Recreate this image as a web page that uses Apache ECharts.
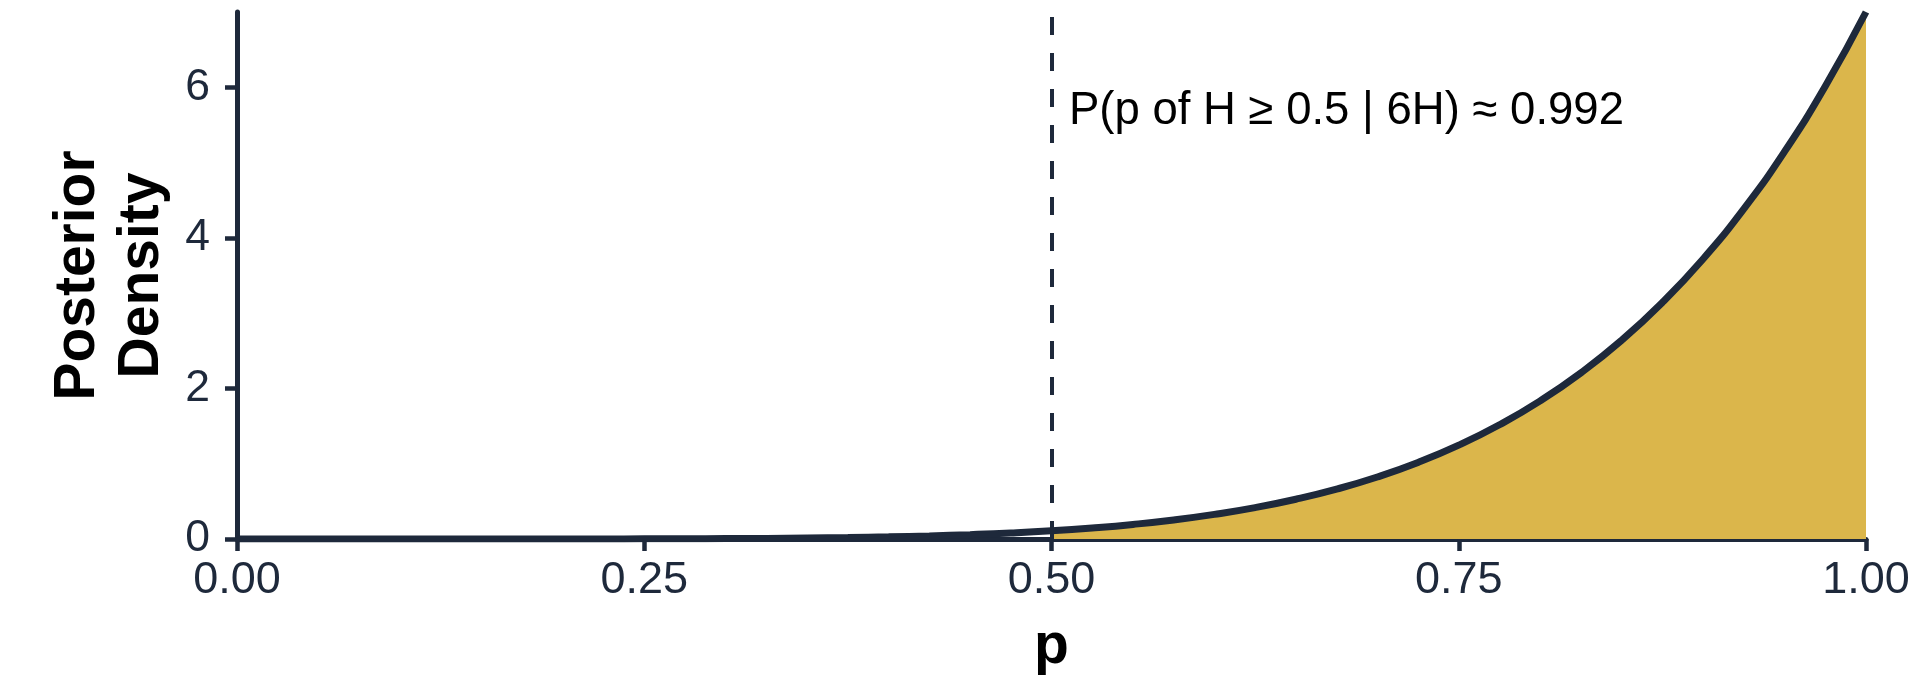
<!DOCTYPE html>
<html>
<head>
<meta charset="utf-8">
<script src="https://cdn.jsdelivr.net/npm/echarts@6/dist/echarts.min.js"></script>
<style>
  html, body { margin: 0; padding: 0; background: #ffffff; }
  #chart { width: 1920px; height: 691px; }
</style>
</head>
<body>
<div id="chart"></div>
<script>
// p values (x) and posterior density
const pValues = [0.000, 0.025, 0.050, 0.075, 0.100, 0.125, 0.150, 0.175, 0.200, 0.225,
                 0.250, 0.275, 0.300, 0.325, 0.350, 0.375, 0.400, 0.425, 0.450, 0.475,
                 0.500, 0.525, 0.550, 0.575, 0.600, 0.625, 0.650, 0.675, 0.700, 0.725,
                 0.750, 0.775, 0.800, 0.825, 0.850, 0.875, 0.900, 0.925, 0.950, 0.975, 1.000];
const density = [0.000, 0.000, 0.000, 0.000, 0.000, 0.000, 0.000, 0.000, 0.000, 0.001,
                 0.002, 0.003, 0.005, 0.008, 0.013, 0.020, 0.029, 0.041, 0.058, 0.080,
                 0.109, 0.147, 0.194, 0.253, 0.327, 0.417, 0.528, 0.662, 0.824, 1.017,
                 1.246, 1.517, 1.835, 2.207, 2.640, 3.142, 3.720, 4.385, 5.146, 6.014, 7.000];
const threshold = 0.5;
const xTickLabels = [0, 0.25, 0.5, 0.75, 1];
const yTickLabels = [0, 2, 4, 6];
const annotationText = 'P(p of H \u2265 0.5 | 6H) \u2248 0.992';
const annotationAt = [0.5, 5.68];

const navy = '#1e293b';
const gold = '#dbb64b';
const font = '"Liberation Sans", Arial, Helvetica, sans-serif';

const curve = pValues.map((p, i) => [p, density[i]]);
const tail = curve.filter(d => d[0] >= threshold);

const chart = echarts.init(document.getElementById('chart'));
chart.setOption({
  animation: false,
  backgroundColor: '#ffffff',
  grid: { left: 237, right: 54, top: 12, bottom: 152, containLabel: false, outerBoundsMode: 'none' },
  xAxis: {
    type: 'value', min: 0, max: 1, interval: 0.25,
    name: 'p', nameLocation: 'middle', nameGap: 80,
    nameTextStyle: { fontFamily: font, fontSize: 57, fontWeight: 'bold', color: '#000' },
    axisLine: { show: true, onZero: false, lineStyle: { color: navy, width: 5 } },
    axisTick: { show: true, length: 12, customValues: xTickLabels, lineStyle: { color: navy, width: 4.5 } },
    axisLabel: { fontFamily: font, fontSize: 45, color: navy, margin: 19, customValues: xTickLabels,
                 formatter: v => v.toFixed(2) },
    splitLine: { show: false }
  },
  yAxis: {
    type: 'value', min: 0, max: 7,
    name: 'Posterior\nDensity', nameLocation: 'middle', nameGap: 58, nameRotate: 90,
    nameTextStyle: { fontFamily: font, fontSize: 57, fontWeight: 'bold', color: '#000', lineHeight: 64, align: 'center' },
    axisLine: { show: true, onZero: false, lineStyle: { color: navy, width: 5 } },
    axisTick: { show: true, length: 12, customValues: yTickLabels, lineStyle: { color: navy, width: 4.5 } },
    axisLabel: { fontFamily: font, fontSize: 44.5, color: navy, margin: 27, customValues: yTickLabels },
    splitLine: { show: false }
  },
  series: [
    {
      type: 'line', data: tail, smooth: true, showSymbol: false,
      lineStyle: { width: 0, opacity: 0 },
      areaStyle: { color: gold, opacity: 1, origin: 'start' },
      z: 2, silent: true
    },
    {
      type: 'line', data: curve, smooth: true, showSymbol: false,
      lineStyle: { color: navy, width: 7 },
      z: 4, silent: true,
      markLine: {
        silent: true, symbol: ['none', 'none'],
        label: { show: false },
        lineStyle: { color: navy, width: 4, type: [18, 18] },
        data: [{ xAxis: threshold }]
      },
      markPoint: {
        silent: true,
        symbol: 'circle', symbolSize: 1,
        itemStyle: { color: 'rgba(0,0,0,0)' },
        label: { show: true, position: 'right', distance: 17, formatter: annotationText,
                 fontFamily: font, fontSize: 45.5, color: '#000' },
        data: [{ coord: annotationAt }]
      }
    }
  ]
});
</script>
</body>
</html>
